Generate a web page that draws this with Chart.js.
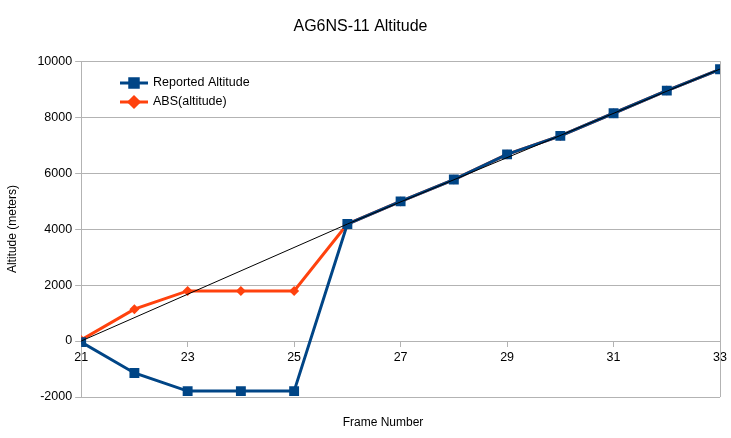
<!DOCTYPE html>
<html>
<head>
<meta charset="utf-8">
<script src="https://cdn.jsdelivr.net/npm/chart.js@4"></script>
<style>
html,body{margin:0;padding:0;background:#fff;}
#wrap{position:relative;width:731px;height:438px;}
</style>
</head>
<body>
<div id="wrap"><canvas id="c" width="731" height="438"></canvas></div>
<script>
const frames = [21,22,23,24,25,26,27,28,29,30,31,32,33];
const reportedAltitude = [-40,-1140,-1790,-1790,-1790,4180,4990,5770,6670,7330,8140,8950,9710];
const absAltitude = [40,1140,1790,1790,1790,4180,4990,5770,6670,7330,8140,8950,9710];
const trendFrames = [21,26,33];
const trendValues = [0,4180,9720];
const yTicks = [-2000,0,2000,4000,6000,8000,10000];
const xTicks = [21,23,25,27,29,31,33];

const FONT = "'Liberation Sans', Arial, sans-serif";
const BLUE = '#004586', ORANGE = '#ff420e', GRID = '#b3b3b3';

const toXY = (xs, ys) => xs.map((x, i) => ({x: x, y: ys[i]}));

const extras = {
  id: 'extras',
  afterDraw(chart) {
    const ctx = chart.ctx, a = chart.chartArea;
    ctx.save();
    ctx.strokeStyle = GRID; ctx.lineWidth = 1;
    ctx.beginPath();
    ctx.moveTo(Math.round(a.right) + 0.5, a.top);
    ctx.lineTo(Math.round(a.right) + 0.5, a.bottom);
    ctx.stroke();
    ctx.fillStyle = '#000';
    ctx.font = "12px " + FONT;
    ctx.textAlign = 'center'; ctx.textBaseline = 'middle';
    ctx.fillText('Frame Number', 383, 423);
    const items = [
      {label: 'Reported Altitude', color: BLUE, style: 'rect', r: 6, y: 83},
      {label: 'ABS(altitude)', color: ORANGE, style: 'rectRot', r: 5, y: 102}
    ];
    items.forEach(it => {
      ctx.strokeStyle = it.color; ctx.lineWidth = 3;
      ctx.beginPath(); ctx.moveTo(120, it.y); ctx.lineTo(148, it.y); ctx.stroke();
      Chart.helpers.drawPoint(ctx, {pointStyle: it.style, radius: it.r, borderWidth: 1, rotation: 0}, 134, it.y);
      ctx.fillStyle = it.color; ctx.fill();
      ctx.fillStyle = '#000';
      ctx.font = "12.5px " + FONT;
      ctx.textAlign = 'left'; ctx.textBaseline = 'middle';
      ctx.fillText(it.label, 153, it.y);
    });
    ctx.restore();
  }
};

new Chart(document.getElementById('c'), {
  type: 'line',
  data: {
    datasets: [
      {label: 'trend', data: toXY(trendFrames, trendValues), borderColor: '#000', borderWidth: 1,
       pointRadius: 0, order: 0, tension: 0},
      {label: 'Reported Altitude', data: toXY(frames, reportedAltitude), borderColor: BLUE, backgroundColor: BLUE,
       borderWidth: 3, pointStyle: 'rect', pointRadius: 7, pointBorderWidth: 0, order: 1, tension: 0},
      {label: 'ABS(altitude)', data: toXY(frames, absAltitude), borderColor: ORANGE, backgroundColor: ORANGE,
       borderWidth: 3, pointStyle: 'rectRot', pointRadius: 5, pointBorderWidth: 0, order: 2, tension: 0}
    ]
  },
  options: {
    responsive: false,
    animation: false,
    events: [],
    layout: {padding: {left: 0, right: 10, top: 0, bottom: 41}},
    plugins: {
      legend: {display: false},
      tooltip: {enabled: false},
      title: {display: true, text: 'AG6NS-11 Altitude', color: '#000',
              font: {family: FONT, size: 16, weight: 'normal'}, padding: {top: 17, bottom: 25}}
    },
    scales: {
      x: {
        type: 'linear', position: {y: 0}, min: 21, max: 33,
        afterBuildTicks: s => { s.ticks = xTicks.map(v => ({value: v})); },
        ticks: {color: '#000', font: {family: FONT, size: 12.5}, padding: 4, maxRotation: 0,
                callback: v => String(v)},
        grid: {drawOnChartArea: false, drawTicks: true, tickLength: 5, color: GRID},
        border: {display: true, color: GRID}
      },
      y: {
        min: -2000, max: 10000,
        afterBuildTicks: s => { s.ticks = yTicks.map(v => ({value: v})); },
        ticks: {color: '#000', font: {family: FONT, size: 12.5}, padding: 3, callback: v => String(v)},
        grid: {color: GRID, tickLength: 6},
        border: {color: GRID},
        title: {display: true, text: 'Altitude (meters)', color: '#000',
                font: {family: FONT, size: 12}, padding: {top: 5, bottom: 15}}
      }
    }
  },
  plugins: [extras]
});
</script>
</body>
</html>
